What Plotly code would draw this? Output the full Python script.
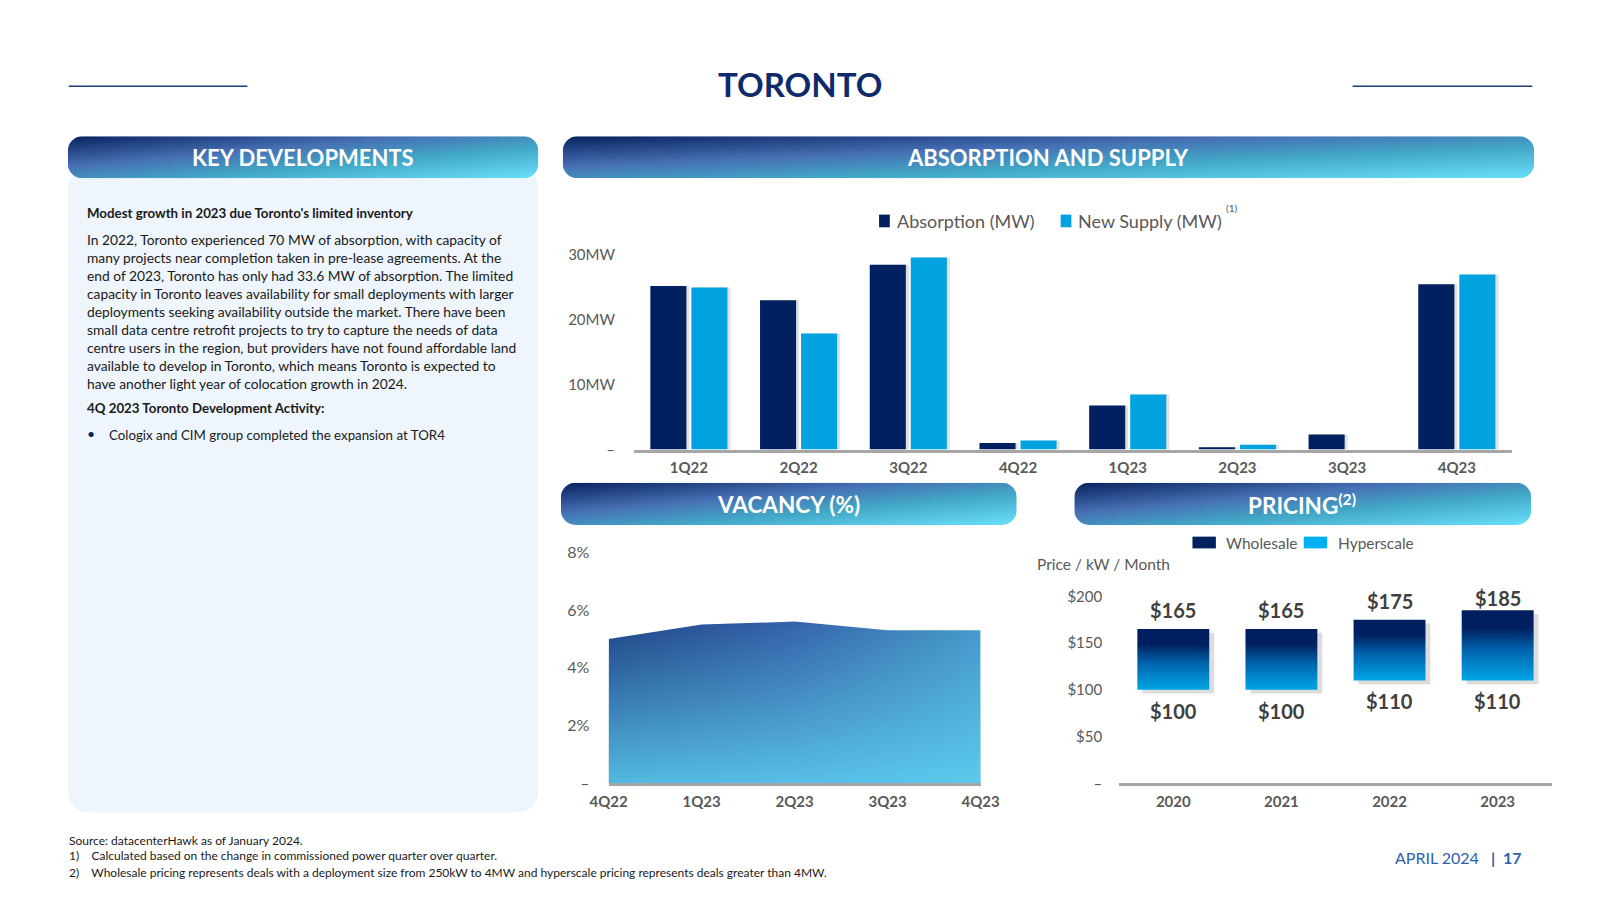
import base64
import plotly.graph_objects as go

# ---------------- data ----------------
quarters = ["1Q22", "2Q22", "3Q22", "4Q22", "1Q23", "2Q23", "3Q23", "4Q23"]
absorption_mw = [25.2, 23.0, 28.5, 1.0, 6.8, 0.35, 2.3, 25.5]
new_supply_mw = [25.0, 17.9, 29.6, 1.4, 8.5, 0.75, 0.0, 27.0]

vac_quarters = ["4Q22", "1Q23", "2Q23", "3Q23", "4Q23"]
vacancy_pct = [5.0, 5.5, 5.6, 5.3, 5.3]

years = ["2020", "2021", "2022", "2023"]
wholesale_price = [165, 165, 175, 185]
hyperscale_price = [100, 100, 110, 110]

abs_ticks = [0, 10, 20, 30]
abs_ticktext = ["–", "10MW", "20MW", "30MW"]
vac_ticks = [0, 2, 4, 6, 8]
vac_ticktext = ["–", "2%", "4%", "6%", "8%"]
price_ticks = [0, 50, 100, 150, 200]
price_ticktext = ["–", "$50", "$100", "$150", "$200"]

body_lines = [
    "In 2022, Toronto experienced 70 MW of absorption, with capacity of",
    "many projects near completion taken in pre-lease agreements. At the",
    "end of 2023, Toronto has only had 33.6 MW of absorption. The limited",
    "capacity in Toronto leaves availability for small deployments with larger",
    "deployments seeking availability outside the market. There have been",
    "small data centre retrofit projects to try to capture the needs of data",
    "centre users in the region, but providers have not found affordable land",
    "available to develop in Toronto, which means Toronto is expected to",
    "have another light year of colocation growth in 2024.",
]

# ---------------- helpers ----------------
W, H = 1600, 900
FONT = "Lato, 'Open Sans', sans-serif"
GREY = "#595959"
NAVY = "#002060"
CYAN = "#00a3e0"


def px(x):
    return x / W


def py(y):
    return 1 - y / H


def svg_uri(svg):
    return "data:image/svg+xml;base64," + base64.b64encode(svg.encode()).decode()


def banner_svg(w, h, r):
    return (
        f"<svg xmlns='http://www.w3.org/2000/svg' width='{w}' height='{h}' viewBox='0 0 {w} {h}' preserveAspectRatio='none'>"
        "<defs><linearGradient id='g' x1='0' y1='0' x2='1' y2='1'>"
        "<stop offset='0' stop-color='#08215f'/>"
        "<stop offset='0.36' stop-color='#4670b4'/>"
        "<stop offset='0.62' stop-color='#42a6c6'/>"
        "<stop offset='1' stop-color='#69e0fc'/>"
        "</linearGradient></defs>"
        f"<rect x='0' y='0' width='{w}' height='{h}' rx='{r}' ry='{r}' fill='url(#g)'/></svg>"
    )


def panel_svg(w, h, r):
    return (
        f"<svg xmlns='http://www.w3.org/2000/svg' width='{w}' height='{h}' viewBox='0 0 {w} {h}' preserveAspectRatio='none'>"
        f"<rect x='0' y='0' width='{w}' height='{h}' rx='{r}' ry='{r}' fill='#eef5fc'/></svg>"
    )


images = []


def add_img(svg, x0, y0, w, h):
    images.append(dict(source=svg_uri(svg), xref="paper", yref="paper",
                       x=px(x0), y=py(y0), sizex=w / W, sizey=h / H,
                       xanchor="left", yanchor="top", sizing="stretch", layer="below"))


fig = go.Figure()

# ---------------- absorption & supply ----------------
BW = 0.329      # bar width (category units)
GAP = 0.045     # gap between the pair
SH = 0.028      # shadow shift
abs_off = -(BW + GAP / 2)
sup_off = GAP / 2
for vals, off in ((absorption_mw, abs_off), (new_supply_mw, sup_off)):
    fig.add_trace(go.Bar(x=quarters, y=vals, width=BW, offset=off + SH,
                         marker=dict(color="rgba(90,90,90,0.18)", line=dict(width=0)),
                         xaxis="x", yaxis="y", showlegend=False, hoverinfo="skip"))
fig.add_trace(go.Bar(x=quarters, y=absorption_mw, name="Absorption (MW)", width=BW, offset=abs_off,
                     marker=dict(color=NAVY, line=dict(width=0)),
                     xaxis="x", yaxis="y", showlegend=False))
fig.add_trace(go.Bar(x=quarters, y=new_supply_mw, name="New Supply (MW)", width=BW, offset=sup_off,
                     marker=dict(color=CYAN, line=dict(width=0)),
                     xaxis="x", yaxis="y", showlegend=False))

# ---------------- vacancy ----------------
fig.add_trace(go.Scatter(x=vac_quarters, y=vacancy_pct, mode="lines", fill="tozeroy",
                         line=dict(width=0, color="#2a4f8f"),
                         fillgradient=dict(type="horizontal",
                                           colorscale=[[0, "#1f4386"], [0.5, "#3563aa"], [1, "#4597c8"]]),
                         xaxis="x2", yaxis="y2", showlegend=False, hoverinfo="skip"))
fig.add_trace(go.Scatter(x=vac_quarters, y=vacancy_pct, mode="lines", fill="tozeroy",
                         line=dict(width=0, color="rgba(0,0,0,0)"),
                         fillgradient=dict(type="vertical",
                                           colorscale=[[0, "rgba(96,214,245,0.8)"],
                                                       [1, "rgba(96,214,245,0)"]]),
                         xaxis="x2", yaxis="y2", showlegend=False, hoverinfo="skip"))

# ---------------- pricing ----------------
bar_w = 0.665
for i, (lo, hi) in enumerate(zip(hyperscale_price, wholesale_price)):
    xs = [i - bar_w / 2, i + bar_w / 2, i + bar_w / 2, i - bar_w / 2, i - bar_w / 2]
    ys = [lo, lo, hi, hi, lo]
    # soft shadow
    fig.add_trace(go.Scatter(x=[v + 0.045 for v in xs], y=[v - 4 for v in ys], mode="lines",
                             fill="toself", fillcolor="rgba(120,120,120,0.25)",
                             line=dict(width=0), xaxis="x3", yaxis="y3",
                             showlegend=False, hoverinfo="skip"))
    fig.add_trace(go.Scatter(x=xs, y=ys, mode="lines", fill="toself",
                             line=dict(width=0, color=NAVY),
                             fillgradient=dict(type="vertical",
                                               colorscale=[[0, "#00a6e6"], [0.45, "#0061aa"],
                                                           [0.75, "#001f5f"], [1, "#001f5f"]]),
                             xaxis="x3", yaxis="y3", showlegend=False, hoverinfo="skip"))

# price labels (kept below the top of the panel)
PX_PER_DOLLAR = (790 - 599) / 200
annotations = []
for i, (lo, hi) in enumerate(zip(hyperscale_price, wholesale_price)):
    up = min(19, 189 - hi * PX_PER_DOLLAR)
    annotations.append(dict(x=i, y=hi, xref="x3", yref="y3", text=f"<b>${hi}</b>",
                            showarrow=False, yshift=up, font=dict(family=FONT, size=20, color="#404040")))
    annotations.append(dict(x=i, y=lo, xref="x3", yref="y3", text=f"<b>${lo}</b>",
                            showarrow=False, yshift=-21, font=dict(family=FONT, size=20, color="#404040")))

# ---------------- axes ----------------
xtickfont = dict(family=FONT, size=15, color=GREY, weight="bold")

fig.update_layout(
    xaxis=dict(domain=[px(630), px(1529)], type="category", range=[-0.5, 7.5],
               showline=True, linecolor="#a6a6a6", linewidth=3, showgrid=False, zeroline=False,
               ticks="outside", ticklen=2, tickcolor="rgba(0,0,0,0)", tickfont=xtickfont,
               anchor="y", fixedrange=True),
    yaxis=dict(domain=[py(449), py(237)], range=[0, 32], tickvals=abs_ticks, ticktext=abs_ticktext,
               showgrid=False, zeroline=False, showline=False, ticks="outside", ticklen=15,
               tickcolor="rgba(0,0,0,0)", tickfont=dict(family=FONT, size=15, color=GREY),
               anchor="x", fixedrange=True),
    xaxis2=dict(domain=[px(604), px(985)], type="category", range=[0, 4],
                showline=True, linecolor="#a6a6a6", linewidth=2.5, showgrid=False, zeroline=False,
                ticks="outside", ticklen=3, tickcolor="rgba(0,0,0,0)", tickfont=xtickfont,
                anchor="y2", fixedrange=True),
    yaxis2=dict(domain=[py(790), py(554)], range=[0, 8], tickvals=vac_ticks, ticktext=vac_ticktext,
                showgrid=False, zeroline=False, showline=False, ticks="outside", ticklen=15,
                tickcolor="rgba(0,0,0,0)", tickfont=dict(family=FONT, size=16, color=GREY),
                anchor="x2", fixedrange=True),
    xaxis3=dict(domain=[px(1127), px(1570)], range=[-0.5, 3.5], tickvals=list(range(len(years))),
                ticktext=years, showline=True, linecolor="#a6a6a6", linewidth=2.5, showgrid=False,
                zeroline=False, ticks="outside", ticklen=3, tickcolor="rgba(0,0,0,0)",
                tickfont=xtickfont, anchor="y3", fixedrange=True),
    yaxis3=dict(domain=[py(790), py(599)], range=[0, 200], tickvals=price_ticks, ticktext=price_ticktext,
                showgrid=False, zeroline=False, showline=False, ticks="outside", ticklen=13,
                tickcolor="rgba(0,0,0,0)", tickfont=dict(family=FONT, size=15, color=GREY),
                anchor="x3", fixedrange=True),
    barmode="group",
)

# ---------------- decorations ----------------
add_img(panel_svg(482, 660, 22), 50, 160, 482, 660)
add_img(banner_svg(482, 43, 15), 50, 129, 482, 43)
add_img(banner_svg(995, 43, 15), 557, 129, 995, 43)
add_img(banner_svg(467, 43, 15), 555, 483, 467, 43)
add_img(banner_svg(468, 43, 15), 1081, 483, 468, 43)

shapes = [
    dict(type="line", xref="paper", yref="paper", x0=px(51), x1=px(234), y0=py(78), y1=py(78),
         line=dict(color="#1f3a78", width=1.5)),
    dict(type="line", xref="paper", yref="paper", x0=px(1366), x1=px(1550), y0=py(78), y1=py(78),
         line=dict(color="#1f3a78", width=1.5)),
    # absorption legend swatches
    dict(type="rect", xref="paper", yref="paper", x0=px(881), x1=px(892), y0=py(222), y1=py(209),
         fillcolor=NAVY, line=dict(width=0)),
    dict(type="rect", xref="paper", yref="paper", x0=px(1067), x1=px(1078), y0=py(222), y1=py(209),
         fillcolor=CYAN, line=dict(width=0)),
    # pricing legend swatches
    dict(type="rect", xref="paper", yref="paper", x0=px(1202), x1=px(1226), y0=py(550), y1=py(538),
         fillcolor=NAVY, line=dict(width=0)),
    dict(type="rect", xref="paper", yref="paper", x0=px(1316), x1=px(1340), y0=py(550), y1=py(538),
         fillcolor="#00b0f0", line=dict(width=0)),
]


def txt(x, y, text, size, color="#1a1a1a", xanchor="left", yanchor="middle", bold=False):
    annotations.append(dict(x=px(x), y=py(y), xref="paper", yref="paper", text=text,
                            showarrow=False, xanchor=xanchor, yanchor=yanchor, align="left",
                            font=dict(family=FONT, size=size, color=color,
                                      weight="bold" if bold else "normal")))


# title
txt(800, 76, "TORONTO", 33, color="#0f2a6b", xanchor="center", bold=True)
# banner titles
txt(291, 151, "KEY DEVELOPMENTS", 22, color="white", xanchor="center", bold=True)
txt(1054, 151, "ABSORPTION AND SUPPLY", 22, color="white", xanchor="center", bold=True)
txt(788, 505, "VACANCY (%)", 22.5, color="white", xanchor="center", bold=True)
txt(1314, 505, "PRICING<sup>(2)</sup>", 22.5, color="white", xanchor="center", bold=True)

# legends
txt(897, 216, "Absorption (MW)", 18, color=GREY)
txt(1083, 216, "New Supply (MW)", 18, color=GREY)
txt(1234, 202, "(1)", 10, color=GREY)
txt(1234, 544, "Wholesale", 15.5, color=GREY)
txt(1349, 544, "Hyperscale", 15.5, color=GREY)
txt(1041, 566, "Price / kW / Month", 15.5, color=GREY)

# left panel text
txt(68, 207, "<b>Modest growth in 2023 due Toronto's limited inventory</b>", 13.3)
annotations.append(dict(x=px(68), y=py(224), xref="paper", yref="paper",
                        text="<br>".join(body_lines), showarrow=False, xanchor="left",
                        yanchor="top", align="left",
                        font=dict(family=FONT, size=13.8, color="#1a1a1a")))
txt(68, 407, "<b>4Q 2023 Toronto Development Activity:</b>", 13.3)
txt(68, 433, "•", 14, color=NAVY)
txt(90, 434, "Cologix and CIM group completed the expansion at TOR4", 13.3)

# footer
txt(49, 848, "Source: datacenterHawk as of January 2024.", 12)
txt(49, 864, "1)    Calculated based on the change in commissioned power quarter over quarter.", 12)
txt(49, 881, "2)    Wholesale pricing represents deals with a deployment size from 250kW to 4MW and hyperscale pricing represents deals greater than 4MW.", 12)
txt(1407, 866, "APRIL 2024", 16, color="#2f5fb0")
txt(1506, 866, "<b>|  17</b>", 16, color="#2f5fb0")

fig.update_layout(
    autosize=True,
    margin=dict(l=0, r=0, t=0, b=0, pad=0),
    paper_bgcolor="white", plot_bgcolor="rgba(0,0,0,0)",
    font=dict(family=FONT),
    images=images, shapes=shapes, annotations=annotations,
    hovermode=False,
)

fig.write_html(
    "out.html",
    config={"displayModeBar": False, "responsive": True},
    default_width="100vw",
    default_height="100vh",
    post_script=(
        "document.documentElement.style.margin='0';"
        "document.body.style.margin='0';"
        "document.body.style.overflow='hidden';"
        "Plotly.Plots.resize(document.getElementById('{plot_id}'));"
    ),
)
